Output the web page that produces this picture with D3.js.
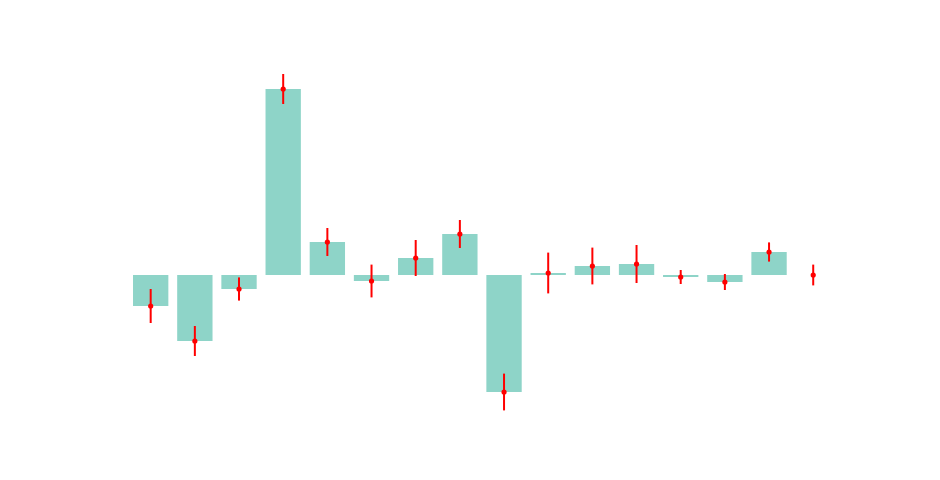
<!DOCTYPE html>
<html><head><meta charset="utf-8">
<script src="https://cdn.jsdelivr.net/npm/d3@7"></script>
<style>body{margin:0;background:#fff}svg{display:block}</style>
</head><body>
<svg id="c" width="940" height="480"></svg>
<script>
const categories = ["c1","c2","c3","c4","c5","c6","c7","c8","c9","c10","c11","c12","c13","c14","c15","c16"];
const values = [-1.55,-3.3,-0.7,9.3,1.65,-0.3,0.85,2.05,-5.85,0.1,0.45,0.55,-0.1,-0.35,1.15,0];
const errors = [0.85,0.75,0.58,0.75,0.7,0.82,0.9,0.7,0.92,1.02,0.92,0.95,0.35,0.4,0.48,0.52];

const svg = d3.select("#c");
const x = d3.scaleBand().domain(categories).range([128.6, 835.3]).paddingInner(0.2).paddingOuter(0.1);
const y = d3.scaleLinear().domain([-8, 12]).range([435, 35]);

svg.selectAll("rect.bar").data(values).enter().append("rect")
  .attr("class","bar")
  .attr("x",(d,i)=>x(categories[i]))
  .attr("width",x.bandwidth())
  .attr("y",d=>Math.min(y(d),y(0)))
  .attr("height",d=>Math.abs(y(d)-y(0)))
  .attr("fill","#8ed4c8");

const cx = i => x(categories[i]) + x.bandwidth()/2;
svg.selectAll("line.err").data(values).enter().append("line")
  .attr("x1",(d,i)=>cx(i)).attr("x2",(d,i)=>cx(i))
  .attr("y1",(d,i)=>y(d+errors[i])).attr("y2",(d,i)=>y(d-errors[i]))
  .attr("stroke","#ff0000").attr("stroke-width",2);
svg.selectAll("circle.pt").data(values).enter().append("circle")
  .attr("cx",(d,i)=>cx(i)).attr("cy",d=>y(d)).attr("r",2.6)
  .attr("fill","#ff0000");
</script>
</body></html>
